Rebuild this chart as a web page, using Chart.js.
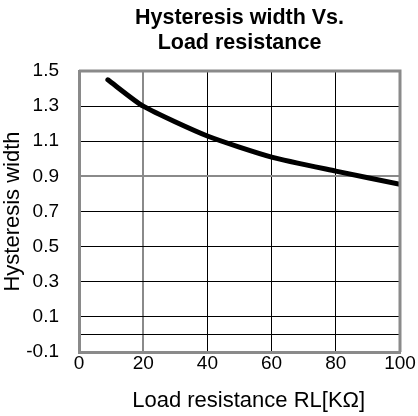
<!DOCTYPE html>
<html>
<head>
<meta charset="utf-8">
<script src="https://cdn.jsdelivr.net/npm/chart.js@4/dist/chart.umd.min.js"></script>
<style>
    html, body { margin: 0; padding: 0; background: #fff; }
    #chart { display: block; }
</style>
</head>
<body>
<canvas id="chart" width="418" height="416"></canvas>
<script>
// values
const loadResistance = [9, 20, 40, 60, 80, 100];          // kΩ
const hysteresisWidth = [1.45, 1.30, 1.13, 1.01, 0.93, 0.855];
const yTickValues = [-0.1, 0, 0.1, 0.3, 0.5, 0.7, 0.9, 1.1, 1.3, 1.5];
const titleLines = ['Hysteresis width Vs.', 'Load resistance'];
const xTitle = '   Load resistance RL[KΩ]';   // leading spaces push it a bit right, like the original
const yTitle = 'Hysteresis width';

const fontFamily = '"Liberation Sans", Arial, sans-serif';
const GRAY = '#8a8a8a';

new Chart('chart', {
    type: 'line',
    data: {
        datasets: [{
            data: loadResistance.map((x, i) => ({ x, y: hysteresisWidth[i] })),
            borderColor: '#000',
            borderWidth: 5,
            borderCapStyle: 'round',
            pointRadius: 0,
            tension: 0.2,
            fill: false
        }]
    },
    options: {
        responsive: false,
        animation: false,
        layout: { padding: { left: 0, right: 18, top: 0, bottom: 0 } },
        plugins: {
            legend: { display: false },
            tooltip: { enabled: false },
            title: {
                display: true,
                fullSize: false,
                text: titleLines,
                color: '#000',
                font: { family: fontFamily, size: 21.5, weight: 'bold', lineHeight: 1.163 },
                padding: { top: 6, bottom: 15 }
            }
        },
        scales: {
            x: {
                type: 'linear',
                min: 0,
                max: 100,
                ticks: {
                    stepSize: 20,
                    padding: 0,
                    color: '#000',
                    font: { family: fontFamily, size: 19 }
                },
                grid: {
                    drawTicks: false,
                    color: ctx => ctx.tick && ctx.tick.value === 20 ? GRAY : '#000',
                    lineWidth: ctx => ctx.tick && ctx.tick.value === 20 ? 2 : 1
                },
                border: { color: GRAY, width: 3 },
                title: {
                    display: true,
                    text: xTitle,
                    color: '#000',
                    font: { family: fontFamily, size: 22, lineHeight: 1.2 },
                    padding: { top: 0, bottom: 2 }
                },
                afterFit: scale => { scale.height = 64; }
            },
            y: {
                min: -0.1,
                max: 1.5,
                afterBuildTicks: axis => {
                    axis.ticks = yTickValues.map(v => ({ value: v }));
                },
                ticks: {
                    padding: 20,
                    color: '#000',
                    font: { family: fontFamily, size: 19 },
                    callback: v => Math.abs(v) < 1e-9 ? '' : v.toFixed(1)
                },
                grid: {
                    drawTicks: false,
                    color: ctx => ctx.tick && Math.abs(ctx.tick.value - 0.9) < 1e-9 ? GRAY : '#000',
                    lineWidth: ctx => ctx.tick && Math.abs(ctx.tick.value - 0.9) < 1e-9 ? 2 : 1
                },
                border: { color: GRAY, width: 3 },
                title: {
                    display: true,
                    text: yTitle,
                    color: '#000',
                    font: { family: fontFamily, size: 22, lineHeight: 1.2 },
                    padding: { top: 0, bottom: 0 }
                },
                afterFit: scale => { scale.width = 79; }
            }
        }
    },
    plugins: [{
        // right and top edges of the plot frame are grey like the axes
        id: 'frame',
        afterDraw(chart) {
            const { ctx, chartArea: a } = chart;
            ctx.save();
            ctx.strokeStyle = GRAY;
            ctx.lineWidth = 3;
            ctx.beginPath();
            ctx.moveTo(a.left, a.top);
            ctx.lineTo(a.right, a.top);
            ctx.lineTo(a.right, a.bottom);
            ctx.stroke();
            ctx.restore();
        }
    }]
});
</script>
</body>
</html>
